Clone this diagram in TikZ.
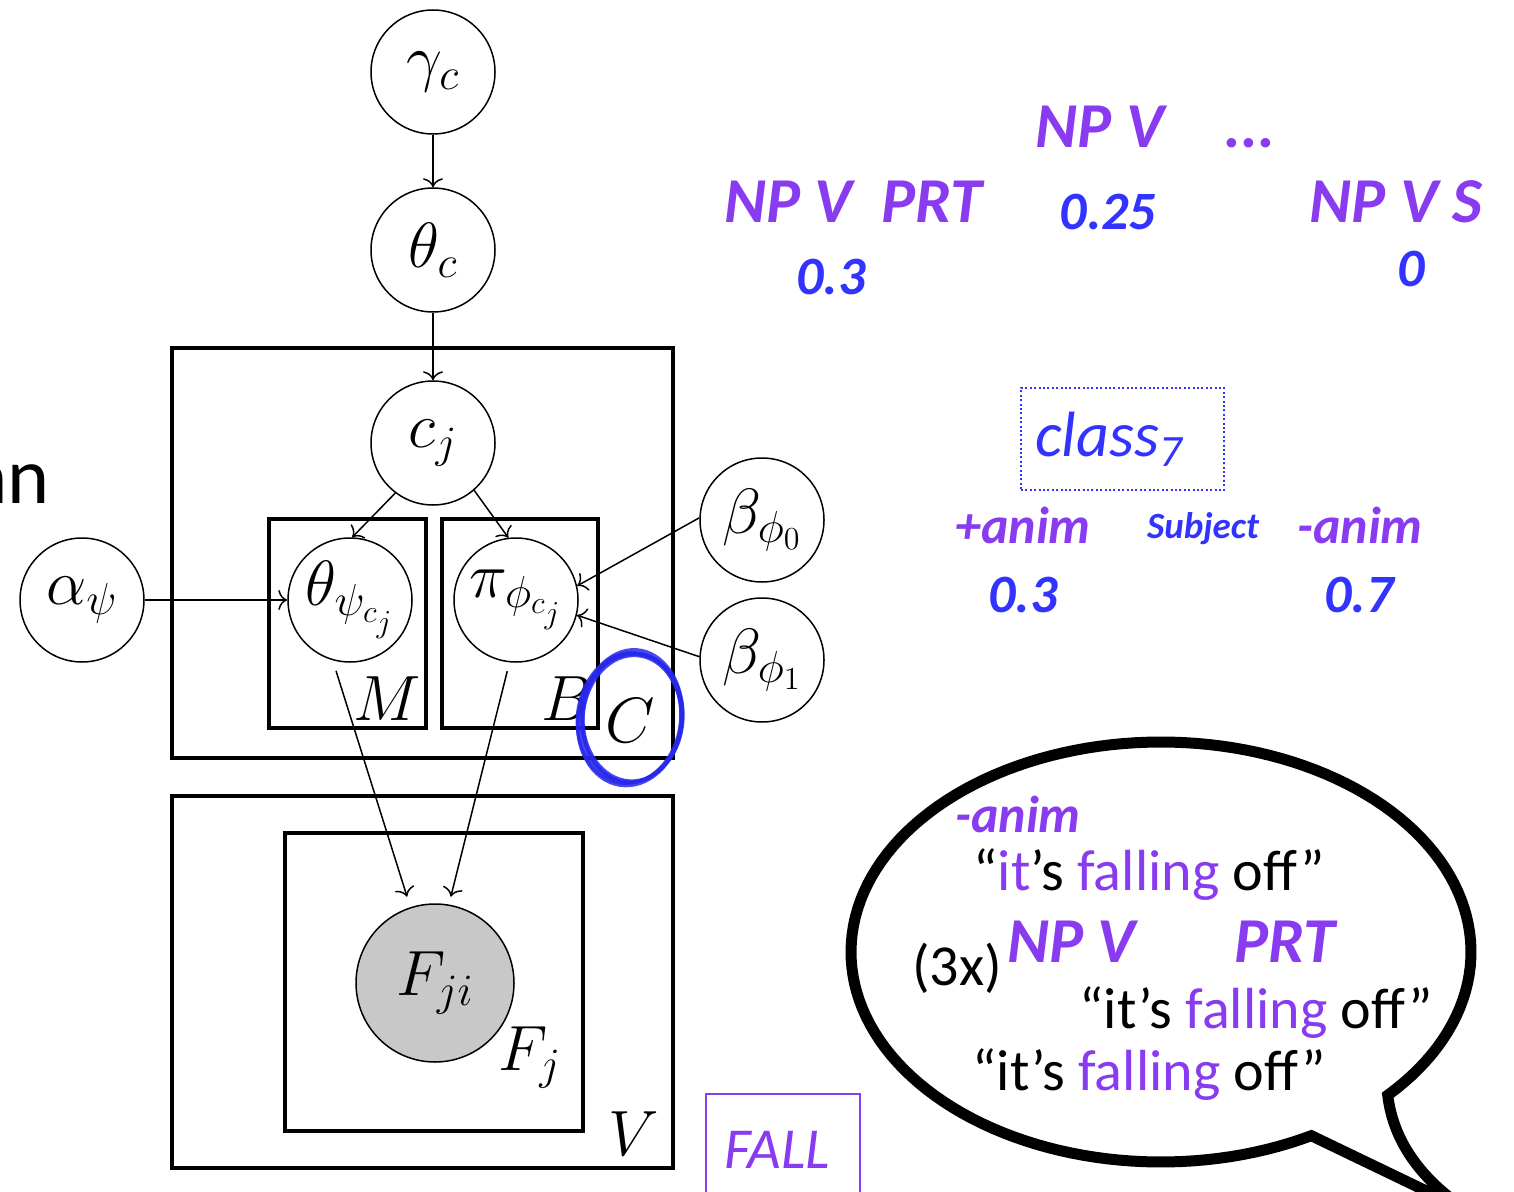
\RequirePackage{fix-cm}
\documentclass[tikz,border=0pt]{standalone}
\usepackage{fontspec}
\newfontfamily\calibrifont{Carlito}
\usetikzlibrary{arrows.meta}
\definecolor{vpurple}{RGB}{137,59,240}
\definecolor{vblue}{RGB}{51,51,255}
\definecolor{ringblue}{RGB}{40,40,235}
\definecolor{nodegray}{RGB}{200,200,200}
\begin{document}
\begin{tikzpicture}[x=0.5pt,y=-0.5pt,
 var/.style={circle,draw,line width=0.75pt,minimum size=62pt,inner sep=0pt,font=\fontsize{32}{38}\selectfont},
 plate/.style={draw,line width=1.8pt},
 edge/.style={line width=0.75pt,-{To[length=4.5pt,width=10pt]}},
 platelabel/.style={anchor=base,inner sep=0pt,font=\fontsize{32}{38}\selectfont},
 pbi/.style={anchor=base,inner sep=0pt,text=vpurple,font=\calibrifont\bfseries\itshape\fontsize{32}{38}\selectfont},
 pbis/.style={anchor=base,inner sep=0pt,text=vpurple,font=\calibrifont\bfseries\itshape\fontsize{26}{31}\selectfont},
 bbi/.style={anchor=base,inner sep=0pt,text=vblue,font=\calibrifont\bfseries\itshape\fontsize{27}{32}\selectfont},
 bt/.style={anchor=base,inner sep=0pt,font=\calibrifont\fontsize{29}{35}\selectfont},
 ring/.style={draw=ringblue,line width=1.6pt,opacity=0.85}
]
\useasboundingbox (0,0) rectangle (1514,1192);
\clip (0,0) rectangle (1514,1192);

% plates
\draw[plate] (172,348) rectangle (673,758);
\draw[plate] (269,519) rectangle (426,728);
\draw[plate] (442,519) rectangle (598,728);
\draw[plate] (172,796) rectangle (673,1168);
\draw[plate] (285,833) rectangle (583,1131);

% variables
\node[var] (gam) at (433,72) {$\gamma_c$};
\node[var] (thc) at (433,250) {$\theta_c$};
\node[var] (cj) at (433,443) {$c_j$};
\node[var] (thpsi) at (350,600) {$\theta_{\psi_{c_j}}$};
\node[var] (piphi) at (516,600) {$\pi_{\phi_{c_j}}$};
\node[var] (alpha) at (82,600) {$\alpha_\psi$};
\node[var] (b0) at (762,520) {$\beta_{\phi_0}$};
\node[var] (b1) at (762,660) {$\beta_{\phi_1}$};
\node[var,fill=nodegray,minimum size=79pt] (fji) at (435,983) {$F_{ji}$};

% edges
\draw[edge] (gam) -- (thc);
\draw[edge] (thc) -- (cj);
\draw[edge] (cj.233) -- (thpsi.88);
\draw[edge] (cj.311) -- (piphi.97);
\draw[edge] (alpha) -- (thpsi);
\draw[edge] (b0.178) -- (piphi.13);
\draw[edge] (b1.177) -- (piphi.-14);
\draw[edge,shorten <=5.5pt,shorten >=5.5pt] (thpsi.254) -- (fji.108);
\draw[edge,shorten <=4.5pt,shorten >=4pt] (piphi.264) -- (fji.80);

% plate labels
\node[platelabel] (lM) at (387,720) {$M$};
\node[platelabel] (lB) at (567,720) {$B$};
\node[platelabel] (lC) at (630,742) {$C$};
\node[platelabel] (lF) at (530,1070) {$F_j$};
\node[platelabel] (lV) at (634,1155) {$V$};

% hand-drawn ring
\foreach \dx/\dy/\rot/\rx/\ry in {0/0/-6/25.5/32.5, 2/-1/-3/25/32, -1/2/-9/26/33, 1/1/-5/24.5/31.8, -2/0/-7/25.8/32.8, 1/-2/-4/25.2/33.2}
  \draw[ring] (631+\dx,718+\dy) ellipse [x radius=\rx pt, y radius=\ry pt, rotate=\rot];

% left clipped word
\node[anchor=base east,inner sep=0pt,font=\calibrifont\fontsize{40}{48}\selectfont] (an) at (50,503) {an};

% top right frames
\node[pbi] (npv) at (1100,148) {NP V};
\node[pbi] (dots) at (1250,148) {...};
\node[pbi] (npvprt) at (853,223) {NP V\hspace{0.45em}PRT};
\node[bbi] (p025) at (1108,230) {0.25};
\node[pbi] (npvs) at (1396,223) {NP V S};
\node[bbi] (p03a) at (831,295) {0.3};
\node[bbi] (p0) at (1411,287) {0};

% class box
\node[draw=vblue,line width=1pt,dash pattern=on 1pt off 1.2pt,minimum height=51pt,
      text width=87.5pt,inner xsep=7pt,align=left,text=vblue,
      font=\calibrifont\itshape\fontsize{32}{38}\selectfont] (cls) at (1122.5,439) {class\textsubscript{7}};
\node[pbis] (panim) at (1023,543) {+anim};
\node[bbi,font=\calibrifont\bfseries\itshape\fontsize{18.5}{22}\selectfont] (subj) at (1203,538) {Subject};
\node[pbis] (manim) at (1360,543) {-anim};
\node[bbi] (p03b) at (1023,612) {0.3};
\node[bbi] (p07) at (1359,612) {0.7};

% speech bubble
\draw[line width=5.5pt,fill=white]
  plot[domain=61:403,samples=150] ({1161+310*cos(\x)},{952+210*sin(\x)})
  .. controls (1393,1140) and (1420,1180) .. (1470,1212) -- cycle;
\node[pbis] (banim) at (1018,832) {-anim};
\node[bt] (line1) at (1149,890) {“\textcolor{vpurple}{it}’s \textcolor{vpurple}{falling} off”};
\node[bt] (three) at (957,985) {(3x)};
\node[pbi,anchor=base west] (bnpv) at (1007,962) {NP V\hspace{1.55em}PRT};
\node[bt] (line2) at (1256,1028) {“it’s \textcolor{vpurple}{falling} off”};
\node[bt] (line3) at (1149,1090) {“it’s \textcolor{vpurple}{falling} off”};

% FALL box
\draw[draw=vpurple,line width=1pt] (706,1094) rectangle (860,1220);
\node[anchor=base,inner sep=0pt,text=vpurple,font=\calibrifont\itshape\fontsize{29}{35}\selectfont] (fall) at (777,1168) {FALL};
\end{tikzpicture}
\end{document}
